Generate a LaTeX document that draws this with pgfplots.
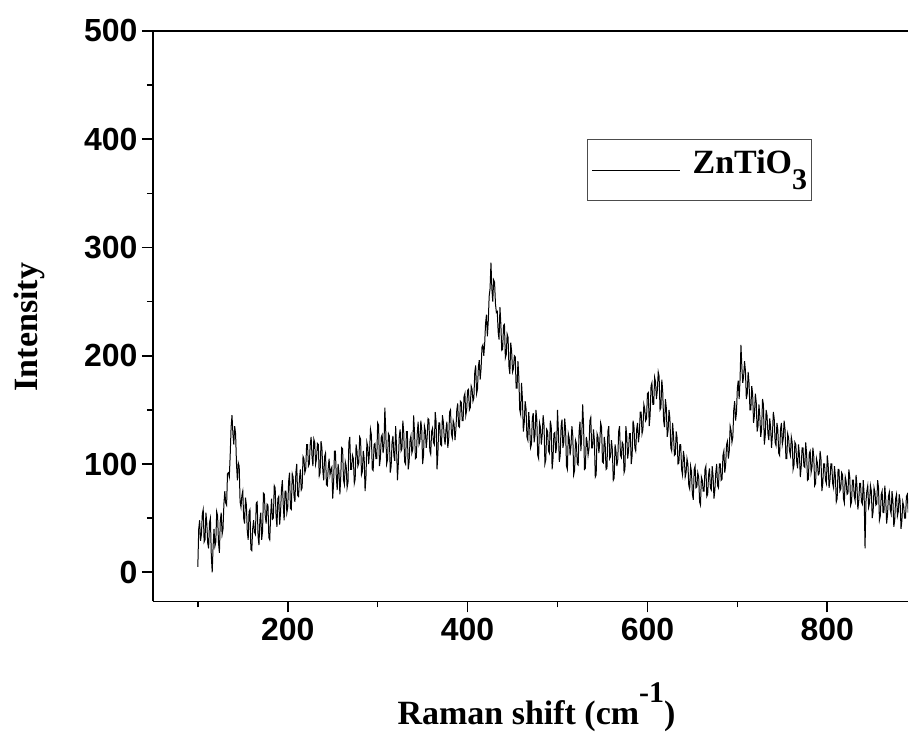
\documentclass[border=0pt]{standalone}
\usepackage{fontspec}
\setmainfont{Liberation Serif}
\setsansfont{Liberation Sans}
\usepackage{pgfplots}
\pgfplotsset{compat=1.18}
\begin{document}
\begin{tikzpicture}
\begin{axis}[
  scale only axis,
  width=756pt, height=571pt,
  xmin=50, xmax=890, ymin=-27, ymax=500,
  axis x line*=bottom, axis y line*=left,
  axis line style={-, line width=1.6pt},
  xtick={200,400,600,800}, minor xtick={100,300,500,700},
  ytick={0,100,200,300,400,500}, minor ytick={50,150,250,350,450},
  tick align=outside,
  major tick length=11pt, minor tick length=6pt,
  every tick/.style={black, line width=1.6pt},
  /pgf/number format/assume math mode=true,
  ticklabel style={font=\fontsize{32}{32}\selectfont\sffamily\bfseries},
  xticklabel style={yshift=-2pt},
  yticklabel style={xshift=-1pt},
  xlabel={Raman shift (cm\raisebox{22pt}{\fontsize{30}{30}\selectfont -1})},
  ylabel={Intensity},
  label style={font=\fontsize{34}{34}\selectfont\bfseries, inner sep=0pt},
  xlabel style={at={(axis description cs:0.508,-0.215)}, anchor=base},
  ylabel style={at={(axis description cs:-0.153,0.481)}, anchor=base},
  legend style={at={(rel axis cs:0.872,0.811)}, anchor=north east, draw=black!70, line width=0.8pt,
    font=\fontsize{34}{34}\selectfont\bfseries, inner xsep=4pt, inner ysep=7pt,
    nodes={inner xsep=0pt, inner ysep=4pt, text depth=16pt}},
  legend image code/.code={\draw[#1, line width=0.8pt] (0pt,0pt) -- (88pt,0pt); \path (100pt,0pt);},
  legend cell align=left,
]
\addplot[black, line width=1pt] coordinates {
(100,5)(101,40)(102,48)(103,29)(104,35)(105,54)(106,58)(107,28)(108,30)(109,55)
(110,45)(111,27)(112,22)(113,46)(114,50)(115,15)(116,0)(117,24)(118,40)(119,24)
(120,28)(121,56)(122,52)(123,27)(124,18)(125,48)(126,55)(127,35)(128,40)(129,63)
(130,75)(131,64)(132,62)(133,91)(134,92)(135,88)(136,108)(137,134)(138,145)(139,128)
(140,118)(141,135)(142,128)(143,100)(144,85)(145,101)(146,98)(147,65)(148,60)(149,71)
(150,75)(151,50)(152,45)(153,69)(154,62)(155,38)(156,30)(157,56)(158,58)(159,21)
(160,20)(161,40)(162,48)(163,37)(164,35)(165,64)(166,65)(167,33)(168,25)(169,48)
(170,55)(171,30)(172,38)(173,73)(174,72)(175,52)(176,45)(177,63)(178,62)(179,32)
(180,30)(181,53)(182,68)(183,49)(184,50)(185,80)(186,78)(187,52)(188,42)(189,68)
(190,70)(191,44)(192,55)(193,76)(194,85)(195,62)(196,48)(197,75)(198,75)(199,55)
(200,60)(201,84)(202,92)(203,59)(204,58)(205,91)(206,88)(207,70)(208,65)(209,92)
(210,100)(211,71)(212,70)(213,86)(214,95)(215,76)(216,78)(217,107)(218,105)(219,92)
(220,95)(221,118)(222,118)(223,98)(224,100)(225,118)(226,125)(227,107)(228,98)(229,123)
(230,120)(231,100)(232,105)(233,119)(234,118)(235,89)(236,92)(237,121)(238,115)(239,94)
(240,85)(241,107)(242,110)(243,81)(244,80)(245,96)(246,105)(247,90)(248,95)(249,97)
(250,68)(251,82)(252,112)(253,112)(254,88)(255,76)(256,100)(257,92)(258,72)(259,89)
(260,115)(261,114)(262,85)(263,81)(264,102)(265,98)(266,78)(267,83)(268,120)(269,125)
(270,95)(271,95)(272,108)(273,105)(274,82)(275,86)(276,118)(277,112)(278,98)(279,101)
(280,125)(281,123)(282,90)(283,93)(284,112)(285,105)(286,75)(287,88)(288,120)(289,116)
(290,100)(291,112)(292,132)(293,127)(294,95)(295,94)(296,118)(297,119)(298,105)(299,105)
(300,138)(301,136)(302,98)(303,105)(304,125)(305,127)(306,110)(307,117)(308,152)(309,130)
(310,100)(311,104)(312,128)(313,126)(314,92)(315,98)(316,120)(317,126)(318,108)(319,103)
(320,135)(321,116)(322,85)(323,101)(324,125)(325,132)(326,112)(327,114)(328,140)(329,129)
(330,102)(331,100)(332,130)(333,130)(334,95)(335,102)(336,122)(337,126)(338,110)(339,113)
(340,145)(341,129)(342,105)(343,106)(344,128)(345,139)(346,118)(347,121)(348,140)(349,132)
(350,100)(351,108)(352,135)(353,131)(354,115)(355,124)(356,142)(357,141)(358,112)(359,109)
(360,130)(361,133)(362,120)(363,118)(364,148)(365,139)(366,95)(367,110)(368,138)(369,138)
(370,118)(371,117)(372,145)(373,139)(374,125)(375,118)(376,132)(377,139)(378,115)(379,123)
(380,148)(381,150)(382,128)(383,124)(384,140)(385,137)(386,122)(387,132)(388,150)(389,156)
(390,135)(391,134)(392,158)(393,157)(394,140)(395,140)(396,162)(397,165)(398,145)(399,150)
(400,168)(401,169)(402,150)(403,152)(404,172)(405,169)(406,158)(407,161)(408,185)(409,191)
(410,165)(411,169)(412,190)(413,196)(414,178)(415,188)(416,208)(417,210)(418,200)(419,211)
(420,230)(421,238)(422,218)(423,232)(424,255)(425,262)(426,286)(427,262)(428,250)(429,270)
(430,268)(431,248)(432,240)(433,241)(434,222)(435,215)(436,245)(437,229)(438,205)(439,206)
(440,228)(441,229)(442,198)(443,201)(444,220)(445,217)(446,190)(447,183)(448,212)(449,204)
(450,185)(451,188)(452,200)(453,199)(454,170)(455,170)(456,195)(457,180)(458,150)(459,146)
(460,175)(461,160)(462,130)(463,138)(464,158)(465,151)(466,125)(467,122)(468,148)(469,135)
(470,115)(471,118)(472,142)(473,147)(474,120)(475,127)(476,150)(477,141)(478,108)(479,105)
(480,138)(481,134)(482,118)(483,127)(484,145)(485,136)(486,100)(487,104)(488,132)(489,130)
(490,112)(491,110)(492,140)(493,135)(494,95)(495,105)(496,128)(497,129)(498,110)(499,116)
(500,150)(501,130)(502,102)(503,108)(504,135)(505,141)(506,115)(507,120)(508,142)(509,132)
(510,98)(511,95)(512,128)(513,124)(514,108)(515,117)(516,135)(517,126)(518,90)(519,94)
(520,122)(521,119)(522,100)(523,99)(524,130)(525,139)(526,112)(527,127)(528,155)(529,135)
(530,95)(531,96)(532,125)(533,120)(534,108)(535,114)(536,140)(537,143)(538,115)(539,115)
(540,132)(541,122)(542,88)(543,90)(544,128)(545,125)(546,110)(547,120)(548,138)(549,134)
(550,102)(551,101)(552,125)(553,118)(554,95)(555,96)(556,130)(557,135)(558,105)(559,107)
(560,122)(561,113)(562,85)(563,87)(564,118)(565,112)(566,98)(567,104)(568,130)(569,135)
(570,108)(571,106)(572,120)(573,118)(574,92)(575,95)(576,135)(577,126)(578,105)(579,112)
(580,128)(581,128)(582,100)(583,108)(584,140)(585,135)(586,115)(587,112)(588,132)(589,138)
(590,120)(591,128)(592,148)(593,148)(594,128)(595,132)(596,155)(597,151)(598,140)(599,142)
(600,165)(601,166)(602,135)(603,145)(604,172)(605,175)(606,155)(607,155)(608,180)(609,176)
(610,160)(611,168)(612,185)(613,181)(614,150)(615,152)(616,178)(617,167)(618,140)(619,134)
(620,160)(621,152)(622,125)(623,131)(624,150)(625,142)(626,115)(627,112)(628,138)(629,127)
(630,108)(631,109)(632,130)(633,124)(634,100)(635,101)(636,118)(637,118)(638,95)(639,90)
(640,112)(641,106)(642,88)(643,92)(644,105)(645,100)(646,80)(647,77)(648,98)(649,93)
(650,72)(651,67)(652,95)(653,98)(654,78)(655,79)(656,92)(657,88)(658,65)(659,62)
(660,88)(661,85)(662,75)(663,75)(664,95)(665,98)(666,70)(667,72)(668,90)(669,96)
(670,78)(671,76)(672,98)(673,89)(674,68)(675,76)(676,92)(677,100)(678,80)(679,78)
(680,100)(681,100)(682,85)(683,86)(684,108)(685,112)(686,92)(687,99)(688,118)(689,121)
(690,105)(691,112)(692,135)(693,131)(694,120)(695,125)(696,150)(697,158)(698,140)(699,147)
(700,170)(701,177)(702,160)(703,178)(704,210)(705,190)(706,175)(707,181)(708,195)(709,186)
(710,160)(711,165)(712,185)(713,175)(714,150)(715,150)(716,172)(717,165)(718,138)(719,145)
(720,165)(721,157)(722,130)(723,135)(724,155)(725,144)(726,125)(727,132)(728,160)(729,155)
(730,118)(731,126)(732,150)(733,145)(734,128)(735,122)(736,142)(737,134)(738,115)(739,127)
(740,148)(741,142)(742,120)(743,117)(744,138)(745,132)(746,110)(747,108)(748,132)(749,138)
(750,118)(751,123)(752,140)(753,132)(754,105)(755,105)(756,128)(757,124)(758,112)(759,108)
(760,125)(761,120)(762,95)(763,99)(764,120)(765,118)(766,102)(767,96)(768,118)(769,109)
(770,88)(771,97)(772,115)(773,115)(774,98)(775,97)(776,120)(777,110)(778,85)(779,86)
(780,110)(781,112)(782,92)(783,97)(784,115)(785,107)(786,80)(787,82)(788,105)(789,101)
(790,90)(791,91)(792,112)(793,105)(794,75)(795,82)(796,100)(797,100)(798,85)(799,82)
(800,108)(801,99)(802,78)(803,85)(804,100)(805,100)(806,82)(807,78)(808,98)(809,89)
(810,65)(811,68)(812,95)(813,95)(814,75)(815,77)(816,92)(817,90)(818,68)(819,64)
(820,88)(821,84)(822,72)(823,73)(824,95)(825,88)(826,62)(827,65)(828,85)(829,85)
(830,70)(831,66)(832,90)(833,80)(834,58)(835,66)(836,82)(837,82)(838,65)(839,63)
(840,85)(841,72)(842,22)(843,65)(844,75)(845,80)(846,60)(847,64)(848,80)(849,75)
(850,50)(851,56)(852,78)(853,74)(854,62)(855,63)(856,85)(857,78)(858,48)(859,52)
(860,72)(861,75)(862,55)(863,55)(864,80)(865,68)(866,45)(867,53)(868,70)(869,74)
(870,58)(871,54)(872,75)(873,66)(874,42)(875,48)(876,68)(877,72)(878,52)(879,56)
(880,72)(881,66)(882,40)(883,48)(884,65)(885,61)(886,50)(887,50)(888,70)(889,72)
(890,55)
};
\addlegendentry{ZnTiO\raisebox{-16pt}{\fontsize{30}{30}\selectfont 3}}
\draw[line width=1.6pt] (rel axis cs:0,1) -- (rel axis cs:1,1);
\end{axis}
\path (current axis.south west) +(-153pt,-133pt);
\path (current axis.north east) +(0pt,31pt);
\end{tikzpicture}
\end{document}
